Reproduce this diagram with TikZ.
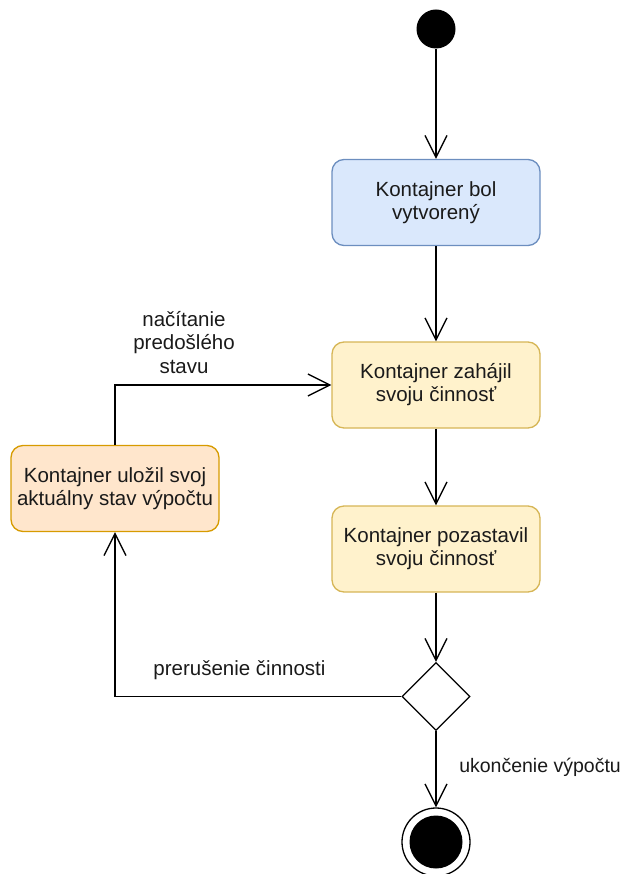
\documentclass[tikz,border=0pt]{standalone}
\usepackage{fontspec}
\setmainfont{Liberation Sans}
\usetikzlibrary{arrows.meta,shapes.geometric}
\definecolor{bluefill}{HTML}{DAE8FC}
\definecolor{bluedraw}{HTML}{6C8EBF}
\definecolor{yelfill}{HTML}{FFF2CC}
\definecolor{yeldraw}{HTML}{D6B656}
\definecolor{orfill}{HTML}{FFE6CC}
\definecolor{ordraw}{HTML}{D79B00}
\definecolor{txt}{HTML}{1A1A1A}
\tikzset{
  box/.style={rectangle, rounded corners=12pt, minimum width=208pt, minimum height=86pt,
    align=center, line width=1.3pt, text=txt, inner sep=0pt,
    font=\fontsize{20.5pt}{23pt}\selectfont},
  lbl/.style={align=center, text=txt, inner sep=0pt,
    font=\fontsize{20.5pt}{23.5pt}\selectfont},
  conn/.style={line width=1.3pt, -{Straight Barb[length=22pt,width=22pt,line width=1.3pt]}},
  plain/.style={line width=1.3pt},
}
\begin{document}
\begin{tikzpicture}[x=1pt,y=-1pt]
\useasboundingbox (0,0) rectangle (622,874);
\node[circle, fill=black, minimum size=39pt, inner sep=0pt] (start) at (436,29) {};
\node[box, fill=bluefill, draw=bluedraw] (b1) at (436,202.5) {Kontajner bol\\vytvorený};
\node[box, fill=yelfill, draw=yeldraw] (b2) at (436,385) {Kontajner zahájil\\svoju činnosť};
\node[box, fill=yelfill, draw=yeldraw] (b3) at (436,549) {Kontajner pozastavil\\svoju činnosť};
\node[box, fill=orfill, draw=ordraw] (b4) at (115,488.5) {Kontajner uložil svoj\\aktuálny stav výpočtu};
\node[diamond, draw=black, fill=white, line width=1.3pt, minimum width=68pt, minimum height=68pt, inner sep=0pt] (d) at (436,696.5) {};
\node[circle, draw=black, fill=white, line width=1.3pt, minimum size=68pt, inner sep=0pt] (end) at (436,842) {};
\node[circle, fill=black, minimum size=53pt, inner sep=0pt] (endin) at (436,842) {};
\coordinate (c1) at (115,385);
\coordinate (c2) at (115,696.5);
\draw[conn] (start) -- (b1);
\draw[conn] (b1) -- (b2);
\draw[conn] (b2) -- (b3);
\draw[conn] (b3) -- (d.north);
\draw[conn] (d.south) -- (end.north);
\draw[conn] (d.west) -- (c2) -- (b4.south);
\draw[conn] (b4.north) -- (c1) -- (b2.west);
\node[lbl, anchor=base] (l1) at (184,373) {načítanie\\predošlého\\stavu};
\node[lbl, anchor=base] (l2) at (239.5,675) {prerušenie činnosti};
\node[lbl, anchor=base east, font=\fontsize{19.5pt}{23pt}\selectfont] (l3) at (621,772) {ukončenie výpočtu};
\end{tikzpicture}
\end{document}
